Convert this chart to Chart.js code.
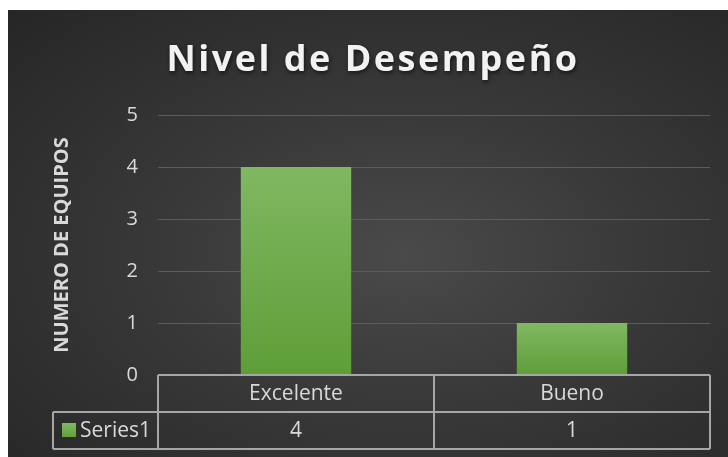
<!DOCTYPE html>
<html>
<head>
<meta charset="utf-8">
<script src="https://cdn.jsdelivr.net/npm/chart.js@4.4.0/dist/chart.umd.min.js"></script>
<style>
  html, body { margin: 0; padding: 0; background: #ffffff; width: 728px; height: 457px; overflow: hidden; }
  #wrap { position: absolute; left: 8px; top: 10px; width: 720px; height: 447px;
    background: radial-gradient(ellipse farthest-corner at 55% 55%, #4a4a4a 0%, #383838 45%, #262626 100%); }
  canvas { display: block; }
</style>
</head>
<body>
<div id="wrap"><canvas id="c" width="720" height="447"></canvas></div>
<script>
const titleText = "Nivel de Desempeño";
const yAxisTitle = "NUMERO DE EQUIPOS";
const categories = ["Excelente", "Bueno"];
const seriesName = "Series1";
const seriesValues = [4, 1];
const yTicks = [0, 1, 2, 3, 4, 5];

const FONT = "'Open Sans', 'DejaVu Sans', sans-serif";
const TEXT = "#d9d9d9";
const BORDER = "#a6a6a6";

const titlePlugin = {
  id: 'customTitle',
  afterDraw(chart) {
    const ctx = chart.ctx;
    ctx.save();
    ctx.font = "bold 36px " + FONT;
    ctx.letterSpacing = "2.5px";
    ctx.fillStyle = "#f2f2f2";
    ctx.textAlign = "center";
    ctx.textBaseline = "alphabetic";
    ctx.shadowColor = "rgba(0,0,0,0.6)";
    ctx.shadowBlur = 4;
    ctx.shadowOffsetX = 1;
    ctx.shadowOffsetY = 2;
    ctx.fillText(titleText, 365, 61);
    ctx.restore();
  }
};

const tablePlugin = {
  id: 'dataTable',
  afterDraw(chart) {
    const ctx = chart.ctx;
    const xs = chart.scales.x;
    const ys = chart.scales.y;
    const top = ys.getPixelForValue(0);
    const rowH = 37;
    const r1 = top + rowH, r2 = top + 2 * rowH;
    const n = categories.length;
    const w = (xs.right - xs.left) / n;
    const legL = 45;
    ctx.save();
    ctx.strokeStyle = BORDER;
    ctx.lineWidth = 2;
    ctx.beginPath();
    ctx.moveTo(xs.left, top); ctx.lineTo(xs.right, top);
    ctx.moveTo(legL, r1); ctx.lineTo(xs.right, r1);
    ctx.moveTo(legL, r2); ctx.lineTo(xs.right, r2);
    ctx.moveTo(legL, r1); ctx.lineTo(legL, r2);
    for (let i = 0; i <= n; i++) {
      const x = xs.left + i * w;
      ctx.moveTo(x, top); ctx.lineTo(x, r2);
    }
    ctx.stroke();
    ctx.fillStyle = TEXT;
    ctx.font = "21px " + FONT;
    ctx.textAlign = "center";
    ctx.textBaseline = "middle";
    for (let i = 0; i < n; i++) {
      const cx = xs.getPixelForValue(i);
      ctx.fillText(categories[i], cx, (top + r1) / 2 + 1);
      ctx.fillText(String(seriesValues[i]), cx, (r1 + r2) / 2 + 1);
    }
    const g = ctx.createLinearGradient(0, r1 + 11, 0, r1 + 25);
    g.addColorStop(0, "#80b862");
    g.addColorStop(1, "#62a13c");
    ctx.fillStyle = g;
    ctx.fillRect(54, r1 + 11, 14, 14);
    ctx.fillStyle = TEXT;
    ctx.textAlign = "left";
    ctx.fillText(seriesName, 72, (r1 + r2) / 2 + 1);
    ctx.restore();
  }
};

new Chart(document.getElementById('c'), {
  type: 'bar',
  data: {
    labels: categories,
    datasets: [{
      label: seriesName,
      data: seriesValues,
      backgroundColor(context) {
        const chart = context.chart;
        const ys = chart.scales.y;
        if (!ys || context.raw === undefined) return "#70ad47";
        const yTop = ys.getPixelForValue(context.raw);
        const yBot = ys.getPixelForValue(0);
        if (!isFinite(yTop) || !isFinite(yBot) || yTop === yBot) return "#70ad47";
        const g = chart.ctx.createLinearGradient(0, yTop, 0, yBot);
        g.addColorStop(0, "#80b862");
        g.addColorStop(1, "#5e9e37");
        return g;
      },
      borderWidth: 0,
      barPercentage: 0.4,
      categoryPercentage: 1.0
    }]
  },
  options: {
    responsive: false,
    animation: false,
    layout: { padding: { top: 105, right: 18, bottom: 82, left: 0 } },
    plugins: { legend: { display: false }, title: { display: false }, tooltip: { enabled: false } },
    scales: {
      x: { display: false },
      y: {
        min: 0, max: 5,
        afterBuildTicks(scale) { scale.ticks = yTicks.map(v => ({ value: v })); },
        afterFit(scale) { scale.width = 150; },
        grid: { color: "#5c5c5c", lineWidth: 1, drawTicks: false },
        border: { display: false },
        ticks: { color: TEXT, font: { family: FONT, size: 20 }, padding: 20 },
        title: {
          display: true, text: yAxisTitle, color: TEXT,
          font: { family: FONT, size: 20, weight: 'bold' },
          padding: { top: 42, bottom: 0 }
        }
      }
    }
  },
  plugins: [titlePlugin, tablePlugin]
});
</script>
</body>
</html>
